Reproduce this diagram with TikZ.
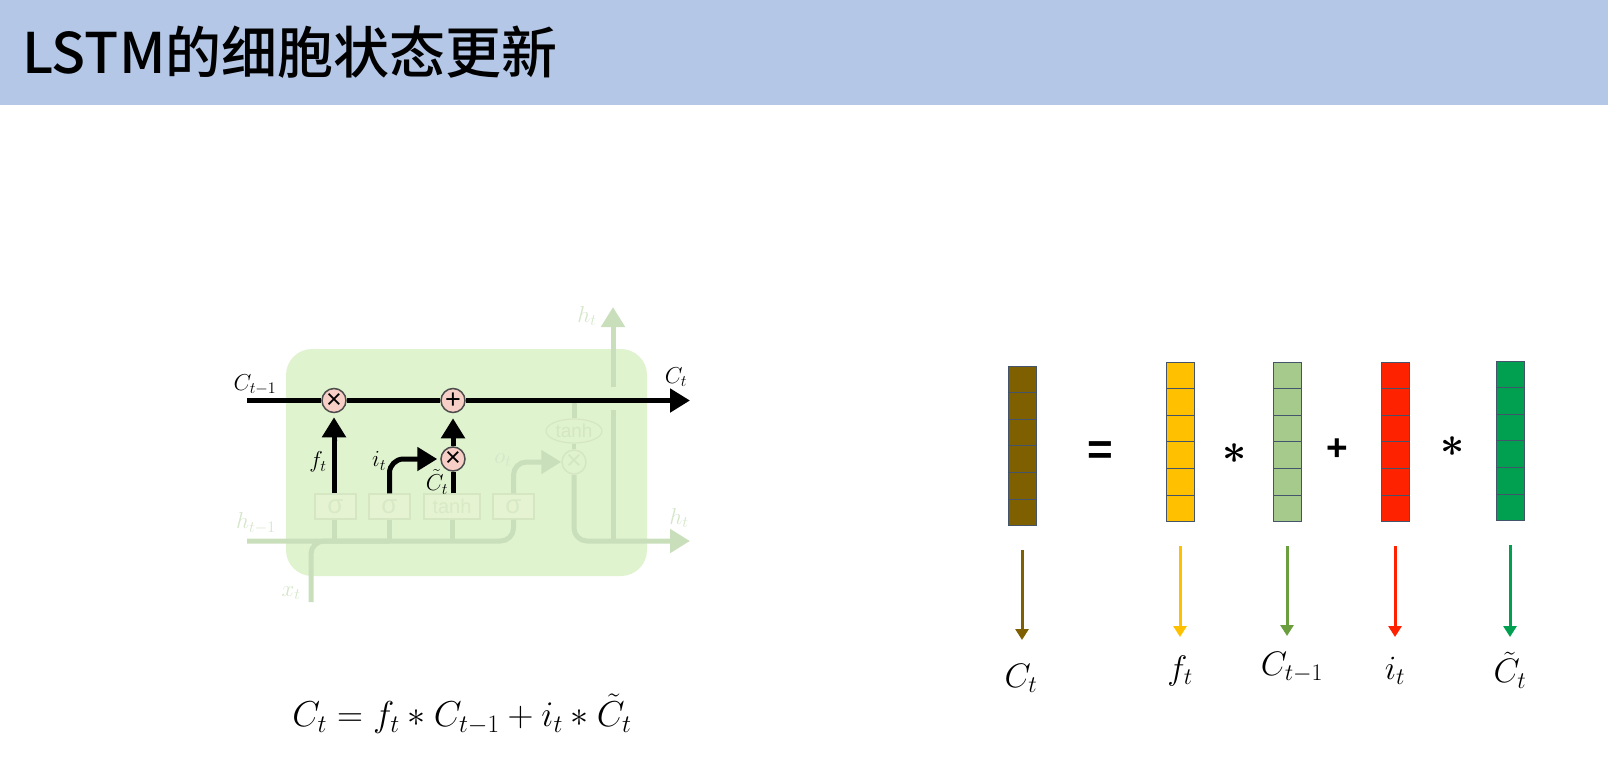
\documentclass[tikz,border=0pt]{standalone}
\usepackage{fix-cm}
\usepackage{amsmath}
\usepackage{fontspec}
\newfontfamily\cjk{Noto Sans CJK SC Medium}
\newfontfamily\boxfont{Liberation Sans}
\usetikzlibrary{arrows.meta,shapes.geometric}
\definecolor{headblue}{HTML}{B4C7E7}
\definecolor{cellgreen}{HTML}{E0F3CF}
\definecolor{fadeline}{HTML}{C9DFBC}
\definecolor{fadetext}{HTML}{D5E6CA}
\definecolor{fadebox}{HTML}{E6F3D2}
\definecolor{faintline}{HTML}{D4E7C2}
\definecolor{gatepink}{HTML}{F8CFC6}
\definecolor{barline}{HTML}{44546A}
\definecolor{barbrown}{HTML}{7F6000}
\definecolor{baryellow}{HTML}{FFC000}
\definecolor{barlime}{HTML}{A6CA8B}
\definecolor{barred}{HTML}{FF2200}
\definecolor{bargreen}{HTML}{00A050}
\definecolor{arrowlime}{HTML}{6A9E3F}

\begin{document}
\begin{tikzpicture}[
x=1pt, y=-1pt,
mathlabel/.style={font=\fontsize{23}{27}\selectfont, inner sep=0pt},
fadelabel/.style={mathlabel, text=fadetext},
biglabel/.style={font=\fontsize{34}{40}\selectfont, inner sep=0pt},
opsign/.style={font=\boxfont\bfseries\fontsize{44}{50}\selectfont, inner sep=0pt},
starsign/.style={font=\fontsize{42}{48}\selectfont, inner sep=0pt},
gate/.style={circle, draw=black!70, line width=1.5pt, fill=gatepink, minimum size=24pt, inner sep=0pt, font=\boxfont\fontsize{27}{30}\selectfont},
fadegate/.style={circle, draw=faintline, line width=1.5pt, minimum size=24pt, inner sep=0pt, text=faintline, font=\boxfont\fontsize{27}{30}\selectfont},
sbox/.style={rectangle, draw=faintline, line width=1.2pt, fill=fadebox, minimum height=25pt, inner sep=0pt, text=faintline!80!fadebox, font=\boxfont\fontsize{20}{24}\selectfont},
strong/.style={draw=black, line width=5pt},
strongarrow/.style={strong, -{Triangle[length=20pt,width=23pt]}},
fade/.style={draw=fadeline, line width=5pt},
fadearrow/.style={fade, -{Triangle[length=20pt,width=23pt]}},
cell/.style={rectangle, draw=barline, line width=1pt, minimum width=28pt, minimum height=26.6pt, inner sep=0pt},
]
\useasboundingbox (0,0) rectangle (1608,782);

% title bar
\fill[headblue] (0,0) rectangle (1608,105);
\node[anchor=west, inner sep=0pt] (title) at (22,52) {\cjk\fontsize{56}{60}\selectfont LSTM的细胞状态更新};

% lstm cell
\fill[cellgreen, rounded corners=26pt] (286,349) rectangle (647,576);

\node[sbox, minimum width=41pt, font=\boxfont\fontsize{26}{30}\selectfont] (sigmaF) at (335.5,506.5) {σ};
\node[sbox, minimum width=41pt, font=\boxfont\fontsize{26}{30}\selectfont] (sigmaI) at (389.5,506.5) {σ};
\node[sbox, minimum width=56pt] (tanhC) at (452,506.5) {tanh};
\node[sbox, minimum width=41pt, font=\boxfont\fontsize{26}{30}\selectfont] (sigmaO) at (513.5,506.5) {σ};
\node[fadegate] (mulO) at (574,462) {×};
\node[ellipse, draw=faintline, line width=1.2pt, minimum width=56pt, minimum height=24pt, inner sep=0pt, text=faintline, font=\boxfont\fontsize{19}{23}\selectfont] (tanhH) at (574,431) {tanh};
\node[gate] (mulF) at (334,400.5) {×};
\node[gate] (addC) at (453,400.5) {+};
\node[gate] (mulC) at (453,459) {×};
\node[circle, fill=red, minimum size=3pt, inner sep=0pt] (redMark) at (336,440) {};

\coordinate (cellIn) at (247,400.5);
\coordinate (cellOut) at (690,400.5);
\coordinate (hiddenIn) at (247,541);
\coordinate (hiddenOut) at (690,541);
\coordinate (hiddenUp) at (613,541);
\coordinate (gapLow) at (613,410);
\coordinate (gapHigh) at (613,387);
\coordinate (hiddenTop) at (613,307);
\coordinate (inputIn) at (311,602);
\coordinate (tanhTop) at (574,400.5);

% faded part
\draw[fade, rounded corners=13pt] (hiddenIn) -| (sigmaO.south);
\draw[fade, rounded corners=13pt] (inputIn) |- (sigmaI.south |- hiddenIn);
\draw[fade] (sigmaF.south -| mulF) -- (mulF |- hiddenIn);
\draw[fade] (sigmaI.south) -- (sigmaI.south |- hiddenIn);
\draw[fade] (tanhC.south) -- (tanhC.south |- hiddenIn);
\draw[fadearrow, rounded corners=13pt] (sigmaO.north) |- (mulO.west);
\draw[fade] (tanhTop) -- (tanhH.north);
\draw[fade, line width=4pt] (tanhH.south) -- (mulO.north);
\draw[fadearrow, rounded corners=13pt] (mulO.south) |- (hiddenOut);
\draw[fade] (hiddenUp) -- (gapLow);
\draw[fadearrow] (gapHigh) -- (hiddenTop);

% cell state
\draw[strong] (cellIn) -- (mulF.west);
\draw[strong] (mulF.east) -- (addC.west);
\draw[strongarrow] (addC.east) -- (cellOut);
\draw[strongarrow, shorten >=4pt] (sigmaF.north -| mulF) -- (mulF.south);
\draw[strong] (tanhC.north -| mulC) -- (mulC.south);
\draw[strongarrow, shorten >=5pt] (mulC.north) -- (addC.south);
\draw[strongarrow, rounded corners=14pt, shorten >=3pt] (sigmaI.north) |- (mulC.west);

\node[mathlabel] (labelCold) at (255,385) {$C_{t-1}$};
\node[mathlabel] (labelCnew) at (676,377) {$C_t$};
\node[mathlabel] (labelF) at (318,462) {$f_t$};
\node[mathlabel] (labelI) at (379,461) {$i_t$};
\node[mathlabel] (labelCt) at (437,482) {$\tilde{C}_t$};
\node[fadelabel] (labelHold) at (256,523) {$h_{t-1}$};
\node[fadelabel] (labelHtop) at (587,316) {$h_t$};
\node[fadelabel] (labelHout) at (679,518) {$h_t$};
\node[fadelabel] (labelX) at (291,593) {$x_t$};
\node[fadelabel] (labelO) at (503,460) {$o_t$};

\node[font=\fontsize{36}{42}\selectfont, inner sep=0pt] (formula) at (462,714) {$C_t = f_t * C_{t-1} + i_t * \tilde{C}_t$};

% vectors
\foreach \name/\posx/\posy/\col in {vecC/1022.5/366/barbrown, vecF/1180/362/baryellow, vecO/1287/362/barlime, vecI/1395/362/barred, vecT/1510/361/bargreen}
{
  \foreach \k in {1,...,6}
    \node[cell, fill=\col] (\name\k) at (\posx,{\posy+(\k-0.5)*26.6}) {};
}

\node[biglabel] (nameC) at (1021,678) {$C_t$};
\node[biglabel] (nameF) at (1180,671) {$f_t$};
\node[biglabel] (nameO) at (1292,667) {$C_{t-1}$};
\node[biglabel] (nameI) at (1395,671) {$i_t$};
\node[biglabel] (nameT) at (1510,670) {$\tilde{C}_t$};

\coordinate (tipC) at (1022,640);
\coordinate (tipF) at (1180,637);
\coordinate (tipO) at (1287,636);
\coordinate (tipI) at (1395,637);
\coordinate (tipT) at (1510,637);
\foreach \name/\tip/\col in {vecC/tipC/barbrown, vecF/tipF/baryellow, vecO/tipO/arrowlime, vecI/tipI/barred, vecT/tipT/bargreen}
  \draw[\col, line width=3pt, shorten <=24pt, -{Triangle[length=11pt,width=13pt]}] (\name6.south -| \tip) -- (\tip);

\node[opsign] (signEq) at (1100,453) {=};
\node[starsign] (signMulA) at (1235,454) {$\boldsymbol{*}$};
\node[opsign, font=\boxfont\bfseries\fontsize{37}{42}\selectfont] (signAdd) at (1337,450) {+};
\node[starsign] (signMulB) at (1453,447) {$\boldsymbol{*}$};
\end{tikzpicture}
\end{document}
